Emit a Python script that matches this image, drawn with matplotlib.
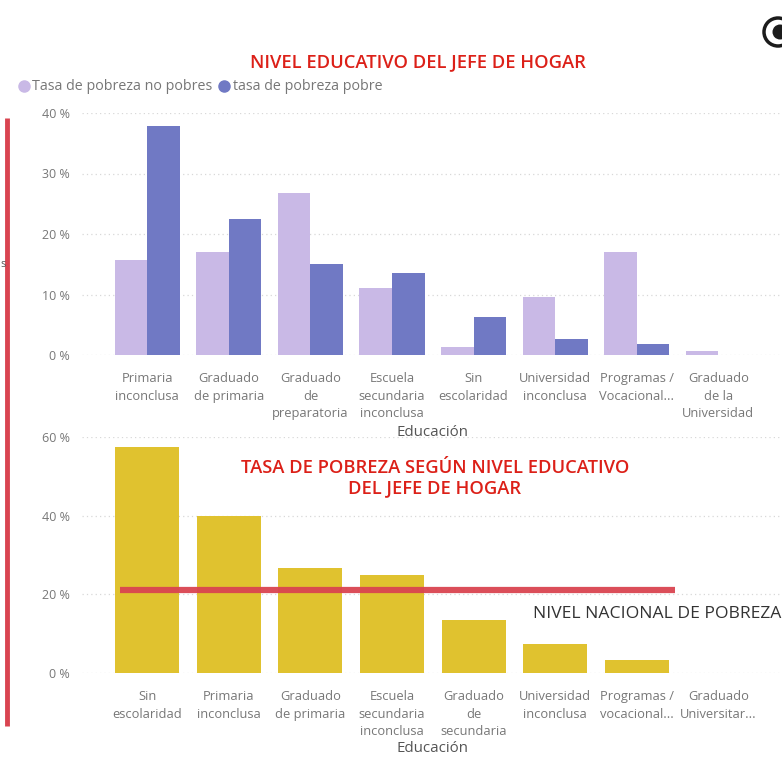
"""Nivel educativo del jefe de hogar: two bar panels, pixel layout matched to the screenshot."""
import matplotlib
matplotlib.use("Agg")
import matplotlib.pyplot as plt
from matplotlib.lines import Line2D
from matplotlib.patches import Circle
import numpy as np

plt.rcParams["font.family"] = ["Open Sans", "DejaVu Sans"]

W, H = 782, 757

cats_top = ["Primaria\ninconclusa", "Graduado\nde primaria", "Graduado\nde\npreparatoria",
            "Escuela\nsecundaria\ninconclusa", "Sin\nescolaridad", "Universidad\ninconclusa",
            "Programas /\nVocacional...", "Graduado\nde la\nUniversidad"]
no_pobres = [15.7, 17.0, 26.8, 11.0, 1.3, 9.6, 17.0, 0.7]
pobres = [37.8, 22.5, 15.0, 13.5, 6.3, 2.6, 1.9, 0.0]

cats_bottom = ["Sin\nescolaridad", "Primaria\ninconclusa", "Graduado\nde primaria",
               "Escuela\nsecundaria\ninconclusa", "Graduado\nde\nsecundaria", "Universidad\ninconclusa",
               "Programas /\nvocacional...", "Graduado\nUniversitar..."]
tasa = [57.4, 40.0, 26.6, 25.0, 13.4, 7.3, 3.2, 0.0]
nivel_nacional = 21.2

top_ticks = [0, 10, 20, 30, 40]
bottom_ticks = [0, 20, 40, 60]

GREY = "#777777"
LILAC = "#c9b9e6"
BLUE = "#7079c4"
GOLD = "#e0c22f"
RED = "#d94450"
TITLE_RED = "#dc2018"


def panel(fig, y_top, y_zero, vmax, ticks, cats):
    # axes spans px 82..782, top tick at y_top, zero at y_zero
    ax = fig.add_axes([82 / W, 1 - y_zero / H, 700 / W, (y_zero - y_top) / H])
    ax.set_xlim(-0.80, 7.78)
    ax.set_ylim(0, vmax)
    ax.set_yticks(ticks)
    ax.set_yticklabels([f"{t} %" for t in ticks], fontsize=9, color=GREY)
    ax.set_xticks(np.arange(len(cats)))
    ax.set_xticklabels(cats, fontsize=9.3, color=GREY, linespacing=1.42, va="top")
    ax.tick_params(length=0, axis="x", pad=12.5)
    ax.tick_params(length=0, axis="y", pad=9)
    ax.grid(axis="y", color="#d8d8d8", linestyle=(0, (1, 2.5)), linewidth=0.9)
    ax.set_axisbelow(True)
    ax.patch.set_alpha(0)
    for s in ax.spines.values():
        s.set_visible(False)
    return ax


fig = plt.figure(figsize=(W / 100, H / 100), dpi=100)

ax1 = panel(fig, 113, 355, 40, top_ticks, cats_top)
x = np.arange(len(cats_top))
ax1.bar(x - 0.2, no_pobres, width=0.4, color=LILAC)
ax1.bar(x + 0.2, pobres, width=0.4, color=BLUE)

ax2 = panel(fig, 437, 673, 60, bottom_ticks, cats_bottom)
ax2.bar(np.arange(len(cats_bottom)), tasa, width=0.785, color=GOLD)
ax2.plot([-0.33, 6.47], [nivel_nacional, nivel_nacional], color=RED, linewidth=4.5,
         solid_capstyle="butt", alpha=0.95)

fig.text(418 / W, 1 - 62 / H, "NIVEL EDUCATIVO DEL JEFE DE HOGAR", color=TITLE_RED,
         fontsize=13.2, fontweight="semibold", ha="center", va="center")
fig.text(435 / W, 1 - 478 / H, "TASA DE POBREZA SEGÚN NIVEL EDUCATIVO\nDEL JEFE DE HOGAR",
         color=TITLE_RED, fontsize=13.2, fontweight="semibold", ha="center", va="center",
         linespacing=1.1)
fig.text(533 / W, 1 - 614 / H, "NIVEL NACIONAL DE POBREZA", color="#333333",
         fontsize=12.6, ha="left", va="center")
fig.text(433 / W, 1 - 433 / H, "Educación", color="#555555", fontsize=10.8,
         ha="center", va="center")
fig.text(433 / W, 1 - 749 / H, "Educación", color="#555555", fontsize=10.8,
         ha="center", va="center")

# legend
fig.text(32 / W, 1 - 86 / H, "Tasa de pobreza no pobres", color=GREY, fontsize=10.3,
         ha="left", va="center")
fig.text(233 / W, 1 - 86 / H, "tasa de pobreza pobre", color=GREY, fontsize=10.3,
         ha="left", va="center")
fig.add_artist(Line2D([24 / W], [1 - 86 / H], marker="o", markersize=8, color=LILAC,
                      transform=fig.transFigure))
fig.add_artist(Line2D([224 / W], [1 - 86 / H], marker="o", markersize=8, color=BLUE,
                      transform=fig.transFigure))

# red rule down the left side
fig.add_artist(Line2D([7 / W, 7 / W], [1 - 118 / H, 1 - 726 / H], color=RED, linewidth=3.5,
                      solid_capstyle="butt"))

# axis letter at the left edge and the round icon at the top right
fig.text(0.3 / W, 1 - 265 / H, "s", color="#555555", fontsize=8, ha="left", va="center")
overlay = fig.add_axes([0, 0, 1, 1], xlim=(0, W), ylim=(H, 0))
overlay.axis("off")
overlay.add_patch(Circle((778, 32), 14, facecolor="white", edgecolor="#1c1c1c", linewidth=2.5))
overlay.add_patch(Circle((780, 32), 7.5, facecolor="#1c1c1c", edgecolor="none"))

fig.savefig("out.png", dpi=100)
plt.close(fig)
